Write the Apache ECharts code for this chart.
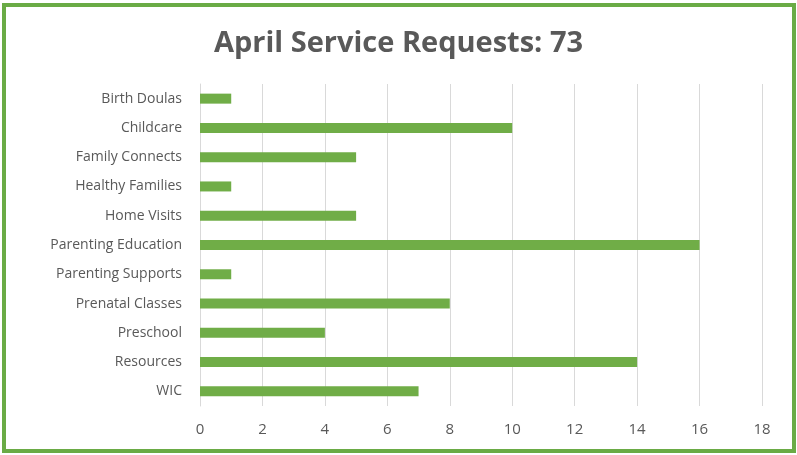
<!DOCTYPE html>
<html>
<head>
<meta charset="utf-8">
<script src="https://cdn.jsdelivr.net/npm/echarts@6/dist/echarts.min.js"></script>
<style>
  html, body { margin: 0; padding: 0; background: #fff; }
  #chart { width: 797px; height: 455px; }
</style>
</head>
<body>
<div id="chart"></div>
<script>
// categories, top to bottom
const categories = ['Birth Doulas', 'Childcare', 'Family Connects', 'Healthy Families', 'Home Visits',
  'Parenting Education', 'Parenting Supports', 'Prenatal Classes', 'Preschool', 'Resources', 'WIC'];
const requests = [1, 10, 5, 1, 5, 16, 1, 8, 4, 14, 7];
const xTicks = [0, 18, 2]; // min, max, step

const chart = echarts.init(document.getElementById('chart'));
chart.setOption({
  animation: false,
  title: {
    text: 'April Service Requests: 73',
    left: 'center',
    top: 24,
    textStyle: {
      fontFamily: 'Open Sans',
      fontSize: 29,
      fontWeight: 'bold',
      color: '#595959'
    }
  },
  graphic: [{
    type: 'rect',
    shape: { x: 4, y: 5, width: 790, height: 446 },
    style: { fill: 'none', stroke: '#6AAB45', lineWidth: 4 }
  }],
  grid: { left: 200, right: 35, top: 84, bottom: 49 },
  xAxis: {
    type: 'value',
    min: xTicks[0],
    max: xTicks[1],
    interval: xTicks[2],
    axisLine: { show: false },
    axisTick: { show: false },
    splitLine: { lineStyle: { color: '#d9d9d9', width: 1 } },
    axisLabel: { color: '#595959', fontSize: 15, fontFamily: 'Open Sans', margin: 16 }
  },
  yAxis: {
    type: 'category',
    data: categories,
    inverse: true,
    axisLine: { show: true, lineStyle: { color: '#d9d9d9' } },
    axisTick: { show: false },
    axisLabel: { color: '#595959', fontSize: 14, fontFamily: 'Open Sans', margin: 18 }
  },
  series: [{
    type: 'bar',
    data: requests,
    barWidth: 10,
    itemStyle: { color: '#70AD47' }
  }]
});
</script>
</body>
</html>
